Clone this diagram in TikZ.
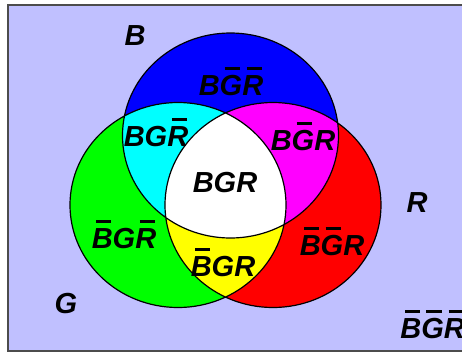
\documentclass[tikz,border=0pt]{standalone}
\usepackage{fontspec}
\setmainfont{Liberation Sans}
\definecolor{lavender}{RGB}{192,192,255}
\definecolor{cBlue}{RGB}{0,0,255}
\definecolor{cGreen}{RGB}{0,255,0}
\definecolor{cRed}{RGB}{255,0,0}
\definecolor{cCyan}{RGB}{0,255,255}
\definecolor{cMagenta}{RGB}{255,0,255}
\definecolor{cYellow}{RGB}{255,255,0}
\newcommand{\nt}[1]{\leavevmode\setbox0\hbox{#1}\rlap{\hspace{0.22\wd0}\rule[0.86em]{0.7\wd0}{0.09em}}#1}

\begin{document}
\begin{tikzpicture}[x=0.5pt,y=-0.5pt,
  lbl/.style={font=\fontsize{14.5}{16}\selectfont\bfseries\itshape,inner sep=0,anchor=base},
  oval/.style={x radius=54pt,y radius=51.25pt}]
\useasboundingbox (0,0) rectangle (462,354);
\filldraw[fill=lavender,draw=black!70,line width=1pt] (8,5) rectangle (480,351);

\coordinate (Bc) at (230.5,135.5);
\coordinate (Gc) at (178,205);
\coordinate (Rc) at (273,205);

% single sets
\fill[cBlue] (Bc) ellipse [oval];
\fill[cGreen] (Gc) ellipse [oval];
\fill[cRed] (Rc) ellipse [oval];
% overlaps
\begin{scope}
\clip (Gc) ellipse [oval];
\fill[cYellow] (Rc) ellipse [oval];
\end{scope}
\begin{scope}
\clip (Bc) ellipse [oval];
\fill[cCyan] (Gc) ellipse [oval];
\fill[cMagenta] (Rc) ellipse [oval];
\clip (Gc) ellipse [oval];
\fill[white] (Rc) ellipse [oval];
\end{scope}
\draw[line width=0.6pt] (Bc) ellipse [oval] (Gc) ellipse [oval] (Rc) ellipse [oval];

\node[lbl] (SB) at (135,45) {B};
\node[lbl] (SG) at (66,313) {G};
\node[lbl] (SR) at (417,212) {R};
\node[lbl] (Bo) at (231,95) {B\nt{G}\nt{R}};
\node[lbl] (BG) at (156,146) {BG\nt{R}};
\node[lbl] (BR) at (303,150) {B\nt{G}R};
\node[lbl] (BGR) at (225,192) {BGR};
\node[lbl] (Go) at (124,248) {\nt{B}G\nt{R}};
\node[lbl] (GR) at (223,276) {\nt{B}GR};
\node[lbl] (Ro) at (332,255) {\nt{B}\nt{G}R};
\node[lbl,anchor=base west] (NONE) at (400,338) {\nt{B}\nt{G}\nt{R}};
\end{tikzpicture}
\end{document}
